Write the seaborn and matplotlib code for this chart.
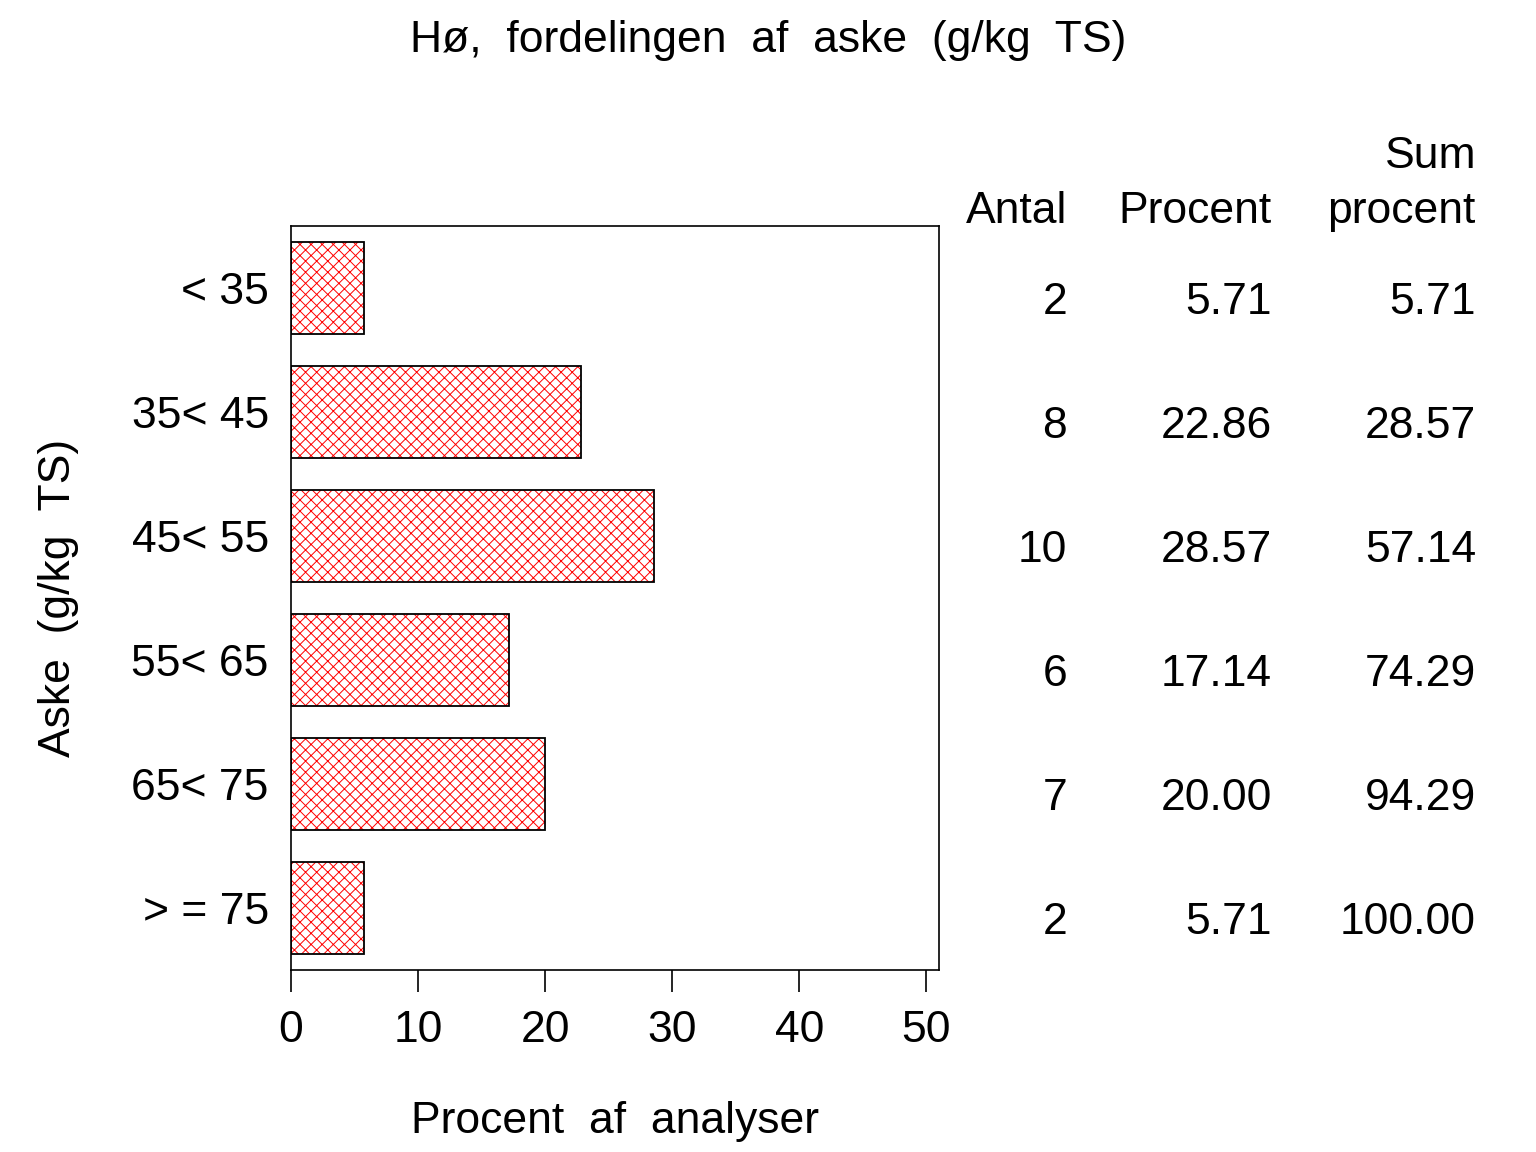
import numpy as np
import pandas as pd
import seaborn as sns
import matplotlib.pyplot as plt
import matplotlib.transforms as mtransforms

# data
klasser = ["< 35", "35< 45", "45< 55", "55< 65", "65< 75", "> = 75"]
antal = [2, 8, 10, 6, 7, 2]
procent = [5.71, 22.86, 28.57, 17.14, 20.00, 5.71]
sum_procent = [5.71, 28.57, 57.14, 74.29, 94.29, 100.00]
xticks = [0, 10, 20, 30, 40, 50]

df = pd.DataFrame({"Klasse": klasser, "Procent": procent})

sns.set_style("white")
plt.rcParams['font.family'] = ['Liberation Sans', 'DejaVu Sans']
plt.rcParams['hatch.linewidth'] = 0.7
plt.rcParams['text.color'] = 'black'
plt.rcParams['axes.labelcolor'] = 'black'
plt.rcParams['xtick.color'] = 'black'
plt.rcParams['ytick.color'] = 'black'

fig = plt.figure(figsize=(15.36, 11.52), dpi=100)
ax = fig.add_axes([0.1895, 0.158, 0.4218, 0.6458])

# hatched fill in red, then black outline on top
sns.barplot(data=df, x="Procent", y="Klasse", orient="h", color="white",
            edgecolor="red", linewidth=0, hatch="xxx", width=0.74, ax=ax)
sns.barplot(data=df, x="Procent", y="Klasse", orient="h", fill=False,
            edgecolor="black", linewidth=1.3, width=0.74, ax=ax)

ax.set_xlim(0, 51)
ax.set_ylim(5.5, -0.5)
ax.set_xticks(xticks)
ax.tick_params(axis="x", labelsize=32, length=16, width=1.2, color="black", pad=13, bottom=True)
ax.tick_params(axis="y", labelsize=32, length=0, pad=16)
for s in ax.spines.values():
    s.set_color("black")
    s.set_linewidth(1.2)

ax.set_xlabel("Procent  af  analyser", fontsize=32, labelpad=36)
ax.set_ylabel("Aske  (g/kg  TS)", fontsize=32, labelpad=38)
fig.text(0.5, 0.965, "Hø,  fordelingen  af  aske  (g/kg  TS)", fontsize=32,
         ha="center", va="center")

# statistics table to the right of the axes
trans = mtransforms.blended_transform_factory(fig.transFigure, ax.transData)
cols_x = [0.6947, 0.8281, 0.9609]
ax.text(cols_x[0], -0.62, "Antal", transform=trans, ha="right", va="center", fontsize=32)
ax.text(cols_x[1], -0.62, "Procent", transform=trans, ha="right", va="center", fontsize=32)
ax.text(cols_x[2], -0.62, "procent", transform=trans, ha="right", va="center", fontsize=32)
ax.text(cols_x[2], -1.06, "Sum", transform=trans, ha="right", va="center", fontsize=32)
for i in range(len(klasser)):
    ax.text(cols_x[0], i + 0.12, f"{antal[i]}", transform=trans, ha="right", va="center", fontsize=32)
    ax.text(cols_x[1], i + 0.12, f"{procent[i]:.2f}", transform=trans, ha="right", va="center", fontsize=32)
    ax.text(cols_x[2], i + 0.12, f"{sum_procent[i]:.2f}", transform=trans, ha="right", va="center", fontsize=32)

fig.savefig("out.png", dpi=100)
